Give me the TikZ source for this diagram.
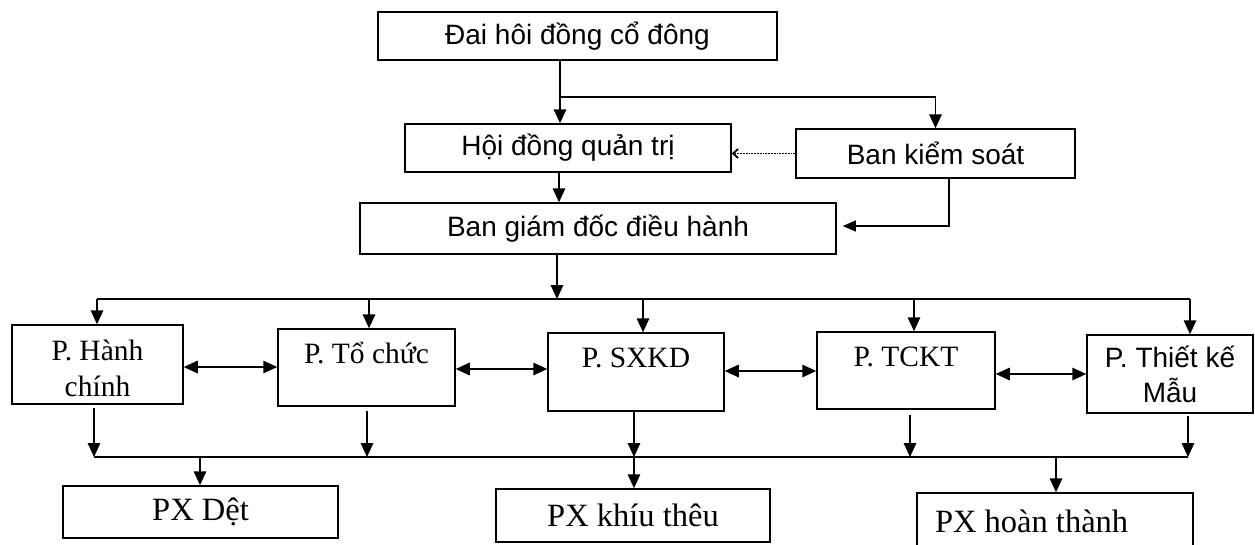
\documentclass[tikz,border=0pt]{standalone}
\usepackage{fontspec}
\setmainfont{Liberation Serif}
\newfontfamily\arialf{Liberation Sans}
\usetikzlibrary{arrows.meta}
\begin{document}
\begin{tikzpicture}[x=1pt,y=-1pt,
  box/.style={draw, line width=1.5pt, rectangle, inner sep=0pt, align=center},
  sansf/.style={font=\arialf\fontsize{28}{35}\selectfont},
  serf/.style={font=\fontsize{29.5}{36}\selectfont},
  pxf/.style={font=\fontsize{32.5}{38}\selectfont},
  ln/.style={line width=1.6pt},
  arr/.style={line width=1.6pt, -{Triangle[length=14pt,width=12.5pt]}},
  tarr/.style={line width=1.1pt, -{Triangle[length=13pt,width=11pt]}},
  darr/.style={line width=1.6pt, {Triangle[length=14pt,width=12.5pt]}-{Triangle[length=14pt,width=12.5pt]}},
  dotarr/.style={line width=1.8pt, densely dotted, -{Straight Barb[length=5pt,width=9pt]}}
]
\fill[white] (0,0) rectangle (1255,544);
\useasboundingbox (0,0) rectangle (1255,544);

% upper part
\node[box, sansf, minimum width=399pt, minimum height=48pt] (dh) at (577.5,36) {Đai hôi đồng cổ đông};
\node[box, sansf, minimum width=326pt, minimum height=48pt] (hd) at (568,148) {Hội đồng quản trị};
\node[box, sansf, minimum width=279pt, minimum height=49pt] (bks) at (935.5,153.5) {Ban kiểm soát};
\node[box, sansf, minimum width=476pt, minimum height=51pt] (bgd) at (598,228.5) {Ban giám đốc điều hành};

% departments
\node[box, serf, minimum width=171pt, minimum height=79pt] (phc) at (97.5,364.5) {\\[-8pt]P. Hành\\chính};
\node[box, serf, minimum width=177pt, minimum height=77pt] (ptc) at (366.5,367.5) {\\[-8pt]P. Tổ chức\\\phantom{chính}};
\node[box, serf, minimum width=176pt, minimum height=78pt] (psx) at (636,372) {\\[-8pt]P. SXKD\\\phantom{chính}};
\node[box, serf, minimum width=178pt, minimum height=77pt] (ptk) at (906,370.5) {\\[-8pt]P. TCKT\\\phantom{chính}};
\node[box, sansf, minimum width=166pt, minimum height=78pt] (ptkm) at (1170,374) {P. Thiết kế\\Mẫu};

% workshops
\node[box, pxf, minimum width=275pt, minimum height=52pt] (pxd) at (200.5,512) {PX Dệt};
\node[box, pxf, minimum width=274pt, minimum height=53pt] (pxk) at (633,515.5) {PX khíu thêu};
\node[box, pxf, text width=240pt, inner xsep=18pt, align=flush left, minimum height=57pt] (pxh) at (1055,521.5) {PX hoàn thành};

% connectors top
\coordinate (j1) at (560,97);
\draw[arr] (dh.south -| j1) -- (hd.north -| j1);
\draw[arr] (j1) -| (bks.north);
\draw[dotarr] (bks.west) -- (bks.west -| hd.east);
\coordinate (j2) at (559,190);
\draw[arr] (hd.south -| j2) -- (bgd.north -| j2);
\coordinate (k1) at (949,226);
\draw[tarr] (bks.south -| k1) -- (k1) -- ([xshift=6pt]bgd.east |- k1);

% upper bus
\coordinate (b1L) at (97,299);
\coordinate (b1R) at (1190,299);
\coordinate (b1m) at (557,299);
\coordinate (t2) at (369,299);
\coordinate (t3) at (643,299);
\coordinate (t4) at (914,299);
\draw[ln] (b1L) -- (b1R);
\draw[arr] (bgd.south -| b1m) -- (b1m);
\draw[arr] (b1L) -- (phc.north -| b1L);
\draw[arr] (t2) -- (ptc.north -| t2);
\draw[arr] (t3) -- (psx.north -| t3);
\draw[arr] (t4) -- (ptk.north -| t4);
\draw[arr] (b1R) -- (ptkm.north -| b1R);

% horizontal double arrows
\draw[darr] (phc.east |- 0,367) coordinate (h1) -- (h1 -| ptc.west);
\draw[darr] (ptc.east |- 0,369) coordinate (h2) -- (h2 -| psx.west);
\draw[darr] (psx.east |- 0,371) coordinate (h3) -- (h3 -| ptk.west);
\draw[darr] (ptk.east |- 0,374) coordinate (h4) -- (h4 -| ptkm.west);

% lower bus
\coordinate (b2L) at (94,457);
\coordinate (b2R) at (1188,457);
\coordinate (u2) at (367,457);
\coordinate (u3) at (634,457);
\coordinate (u4) at (910,457);
\draw[ln] (b2L) -- (b2R);
\draw[arr] ([yshift=-3pt]phc.south -| b2L) -- (b2L);
\draw[arr] ([yshift=-4pt]ptc.south -| u2) -- (u2);
\draw[arr] (psx.south -| u3) -- (u3);
\draw[arr] ([yshift=-5pt]ptk.south -| u4) -- (u4);
\draw[arr] ([yshift=-2pt]ptkm.south -| b2R) -- (b2R);

\coordinate (v1) at (200,457);
\coordinate (v3) at (1056,457);
\draw[arr] (v1) -- (pxd.north -| v1);
\draw[arr] (u3) -- (pxk.north -| u3);
\draw[arr] (v3) -- (pxh.north -| v3);
\end{tikzpicture}
\end{document}
